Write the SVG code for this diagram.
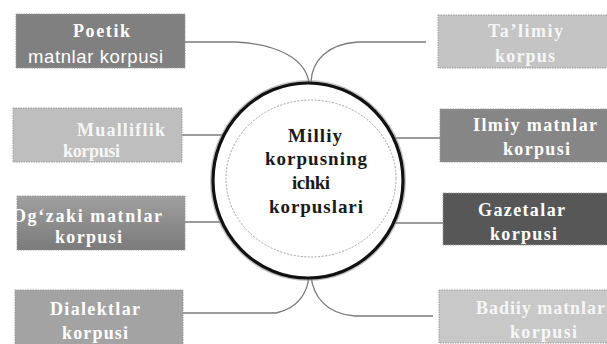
<svg xmlns="http://www.w3.org/2000/svg" width="607" height="344" viewBox="0 0 607 344">
<style>
.bs{font-family:"Liberation Serif","Times New Roman",serif;font-weight:bold;font-size:18px;fill:#ffffff}
.ss{font-family:"Liberation Sans",Arial,sans-serif;font-size:18.5px;fill:#ffffff}
.lt{fill:#f6f6f6}
.ct{font-family:"Liberation Serif","Times New Roman",serif;font-weight:bold;font-size:19px;fill:#1a1a1a}
.box{stroke:#9a9a9a;stroke-width:1;stroke-dasharray:1.5 1}
.con{fill:none;stroke:#7a7a7a;stroke-width:1.3}
</style>
<defs>
<linearGradient id="g1" x1="0" y1="0" x2="0" y2="1">
<stop offset="0" stop-color="#a0a0a0"/>
<stop offset="1" stop-color="#7a7a7a"/>
</linearGradient>
</defs>
<rect width="607" height="344" fill="#ffffff"/>
<g id="connectors">
<path class="con" d="M185,42 H235 C280,44 305,60 309,82"/>
<path class="con" d="M426,42 H358 C328,44 312,60 311,82"/>
<path class="con" d="M182,135 H300"/>
<path class="con" d="M185,222 H300"/>
<path class="con" d="M183,313 H276 C300,308 308,290 309,276"/>
<path class="con" d="M311,276 C313,295 325,314 355,316 H433"/>
<path class="con" d="M320,138 H440"/>
<path class="con" d="M320,223 H443"/>
</g>
<g id="center">
<ellipse cx="308" cy="180.5" rx="95" ry="97.5" fill="#ffffff" stroke="#999" stroke-width="6" opacity="0.6"/>
<ellipse cx="308" cy="180.5" rx="95" ry="97.5" fill="#ffffff" stroke="#111" stroke-width="3.2"/>
<ellipse cx="311" cy="178.5" rx="85" ry="78.5" fill="none" stroke="#a0a0a0" stroke-width="1" stroke-dasharray="2 1.5"/>
<text class="ct" x="315" y="142" text-anchor="middle" textLength="54" lengthAdjust="spacing">Milliy</text>
<text class="ct" x="316" y="165" text-anchor="middle" textLength="102" lengthAdjust="spacing">korpusning</text>
<text class="ct" x="311" y="189" text-anchor="middle" textLength="38" lengthAdjust="spacing">ichki</text>
<text class="ct" x="316" y="213" text-anchor="middle" textLength="94" lengthAdjust="spacing">korpuslari</text>
</g>
<g id="poetik">
<rect class="box" x="16" y="14" width="169" height="54" fill="#808080"/>
<text class="bs" x="101.5" y="37" text-anchor="middle" textLength="57" lengthAdjust="spacing">Poetik</text>
<text class="ss" x="95.5" y="63" text-anchor="middle" textLength="135" lengthAdjust="spacing">matnlar korpusi</text>
</g>
<g id="talimiy">
<rect class="box" x="438" y="15" width="175" height="53" fill="#c4c4c4"/>
<text class="bs lt" x="525.5" y="37" text-anchor="middle" textLength="75" lengthAdjust="spacing">Ta’limiy</text>
<text class="bs lt" x="525" y="62" text-anchor="middle" textLength="60" lengthAdjust="spacing">korpus</text>
</g>
<g id="mualliflik">
<rect class="box" x="13" y="108" width="169" height="54" fill="#bebebe"/>
<text class="bs lt" x="77" y="136" textLength="88" lengthAdjust="spacing">Mualliflik</text>
<text class="bs lt" x="63" y="157" textLength="57" lengthAdjust="spacing">korpusi</text>
</g>
<g id="ogzaki">
<rect class="box" x="17" y="196" width="168" height="54" fill="url(#g1)"/>
<text class="bs" x="12" y="222" textLength="150" lengthAdjust="spacing">Og‘zaki matnlar</text>
<text class="bs" x="55" y="243" textLength="67" lengthAdjust="spacing">korpusi</text>
</g>
<g id="dialektlar">
<rect class="box" x="15" y="290" width="168" height="60" fill="#a3a3a3"/>
<text class="bs" x="50" y="315" textLength="90" lengthAdjust="spacing">Dialektlar</text>
<text class="bs" x="62" y="339" textLength="66" lengthAdjust="spacing">korpusi</text>
</g>
<g id="ilmiy">
<rect class="box" x="440" y="109" width="175" height="53" fill="#868686"/>
<text class="bs" x="473" y="131" textLength="124" lengthAdjust="spacing">Ilmiy matnlar</text>
<text class="bs" x="503" y="155" textLength="67" lengthAdjust="spacing">korpusi</text>
</g>
<g id="gazetalar">
<rect class="box" x="443" y="193" width="172" height="52" fill="#575757"/>
<text class="bs" x="478" y="216" textLength="87" lengthAdjust="spacing">Gazetalar</text>
<text class="bs" x="490" y="240" textLength="67" lengthAdjust="spacing">korpusi</text>
</g>
<g id="badiiy">
<rect class="box" x="439" y="290" width="176" height="53" fill="#c8c8c8"/>
<text class="bs lt" x="476" y="314" textLength="129" lengthAdjust="spacing">Badiiy matnlar</text>
<text class="bs lt" x="510" y="338" textLength="67" lengthAdjust="spacing">korpusi</text>
</g>
</svg>
